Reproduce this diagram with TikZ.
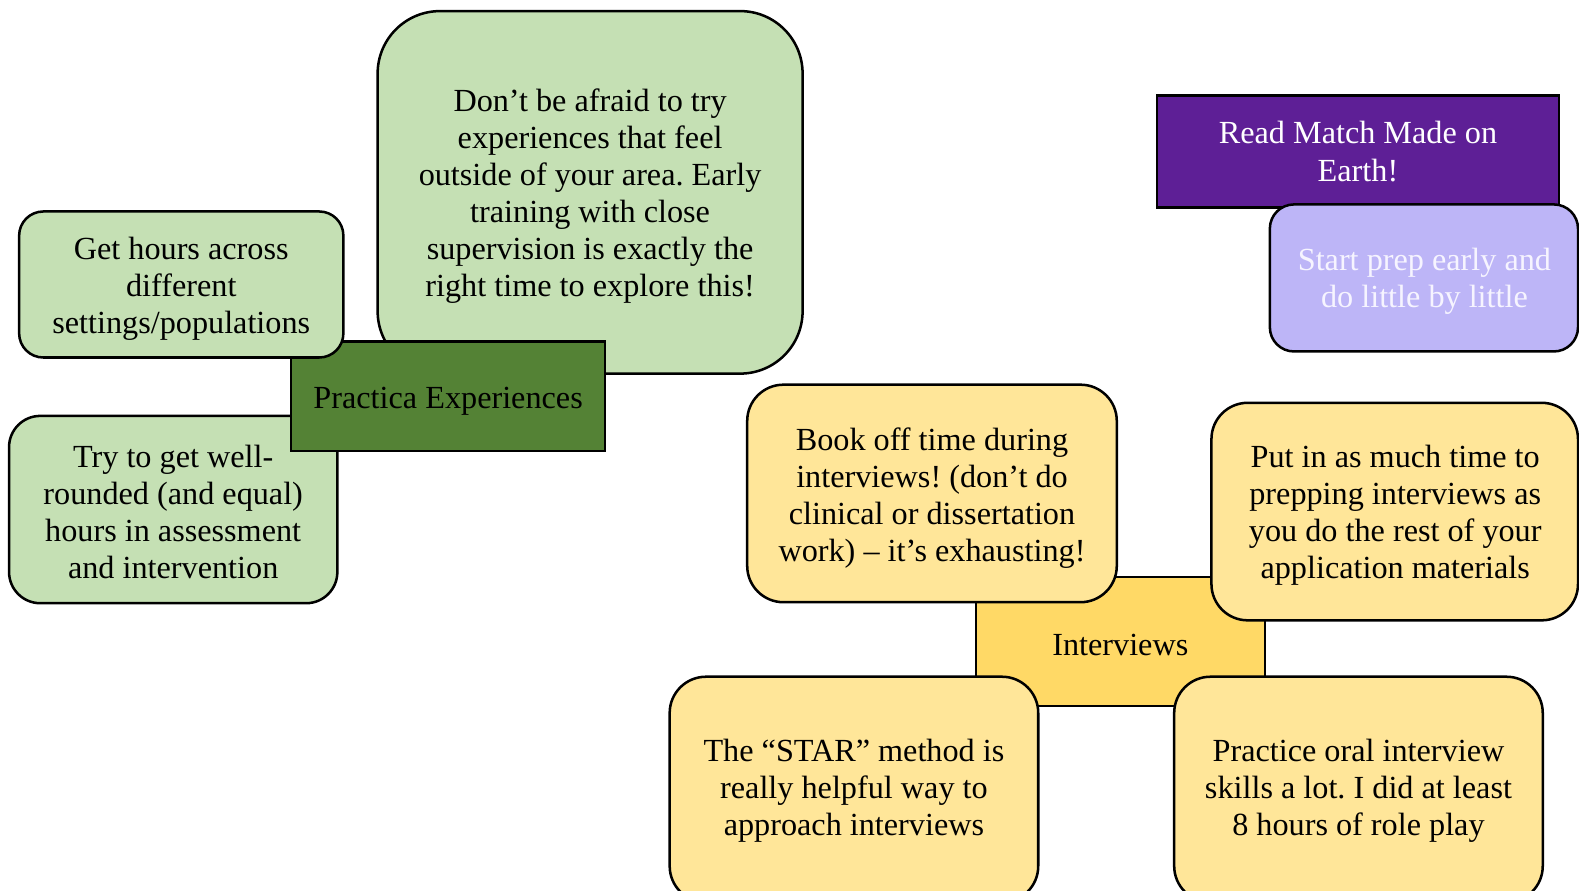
\documentclass[tikz,border=0pt]{standalone}
\usepackage{fontspec}
\setmainfont{Liberation Serif}
\frenchspacing
\definecolor{lgreen}{HTML}{C5E0B4}
\definecolor{dgreen}{HTML}{548235}
\definecolor{lyellow}{HTML}{FFE699}
\definecolor{dyellow}{HTML}{FFD966}
\definecolor{dpurple}{HTML}{5E1F96}
\definecolor{lpurple}{HTML}{BDB5F7}
\definecolor{ptext}{HTML}{F6F4FF}
\begin{document}
\begin{tikzpicture}[x=0.5pt,y=-0.5pt,
  box/.style={draw=black, line width=1.25pt, inner sep=0pt},
  txt/.style={inner sep=0pt, align=center, font=\fontsize{16}{18.4}\selectfont},
  greenbox/.style={box, fill=lgreen},
  yellowbox/.style={box, fill=lyellow, rounded corners=18pt, minimum width=183pt},
  hubgreen/.style={box, fill=dgreen},
  hubyellow/.style={box, fill=dyellow},
  hubpurple/.style={box, fill=dpurple},
  purplebox/.style={box, fill=lpurple},
  whitetxt/.style={txt, text=white},
  palettxt/.style={txt, text=ptext}]
\useasboundingbox (0,0) rectangle (1568,884);
\clip (0,0) rectangle (1568,884);

% Practica cluster
\node[greenbox, rounded corners=31pt, minimum width=211pt, minimum height=180pt] (dont) at (586,191) {};
\node[txt] (dontT) at (586,195)
  {Don’t be afraid to try\\experiences that feel\\outside of your area. Early\\training with close\\supervision is exactly the\\right time to explore this!};
\node[greenbox, rounded corners=15.5pt, minimum width=163pt, minimum height=93pt] (try) at (172,506) {};
\node[txt] (tryT) at (172,508)
  {Try to get well-\\rounded (and equal)\\hours in assessment\\and intervention};
\node[hubgreen, minimum width=156pt, minimum height=54.5pt] (practica) at (445,393.5) {};
\node[txt] (practicaT) at (445,398) {Practica Experiences};
\node[greenbox, rounded corners=12pt, minimum width=161pt, minimum height=72.5pt] (hours) at (180,282.5) {};
\node[txt] (hoursT) at (180,286.5)
  {Get hours across\\different\\settings/populations};

% Purple cluster
\node[hubpurple, minimum width=199.5pt, minimum height=55.5pt] (read) at (1348.5,150.5) {};
\node[whitetxt] (readT) at (1348.5,150.5) {Read Match Made on\\Earth!};
\node[purplebox, rounded corners=12pt, minimum width=153pt, minimum height=73pt] (start) at (1414,276) {};
\node[palettxt] (startT) at (1414.5,279) {Start prep early and\\do little by little};

% Interviews cluster
\node[hubyellow, minimum width=143.5pt, minimum height=64pt] (interviews) at (1112.5,637) {};
\node[txt] (interviewsT) at (1112.5,640) {Interviews};
\node[yellowbox, minimum width=183.5pt, minimum height=108pt] (book) at (925.5,490) {};
\node[txt] (bookT) at (925.5,495)
  {Book off time during\\interviews! (don’t do\\clinical or dissertation\\work) – it’s exhausting!};
\node[yellowbox, minimum width=182pt, minimum height=108pt] (putin) at (1385,508) {};
\node[txt] (putinT) at (1385.5,512)
  {Put in as much time to\\prepping interviews as\\you do the rest of your\\application materials};
\node[yellowbox, minimum height=112pt] (star) at (848,784) {};
\node[txt] (starT) at (848,785)
  {The “STAR” method is\\really helpful way to\\approach interviews};
\node[yellowbox, minimum height=112pt] (oral) at (1349,784) {};
\node[txt] (oralT) at (1349,785)
  {Practice oral interview\\skills a lot. I did at least\\8 hours of role play};
\end{tikzpicture}
\end{document}
